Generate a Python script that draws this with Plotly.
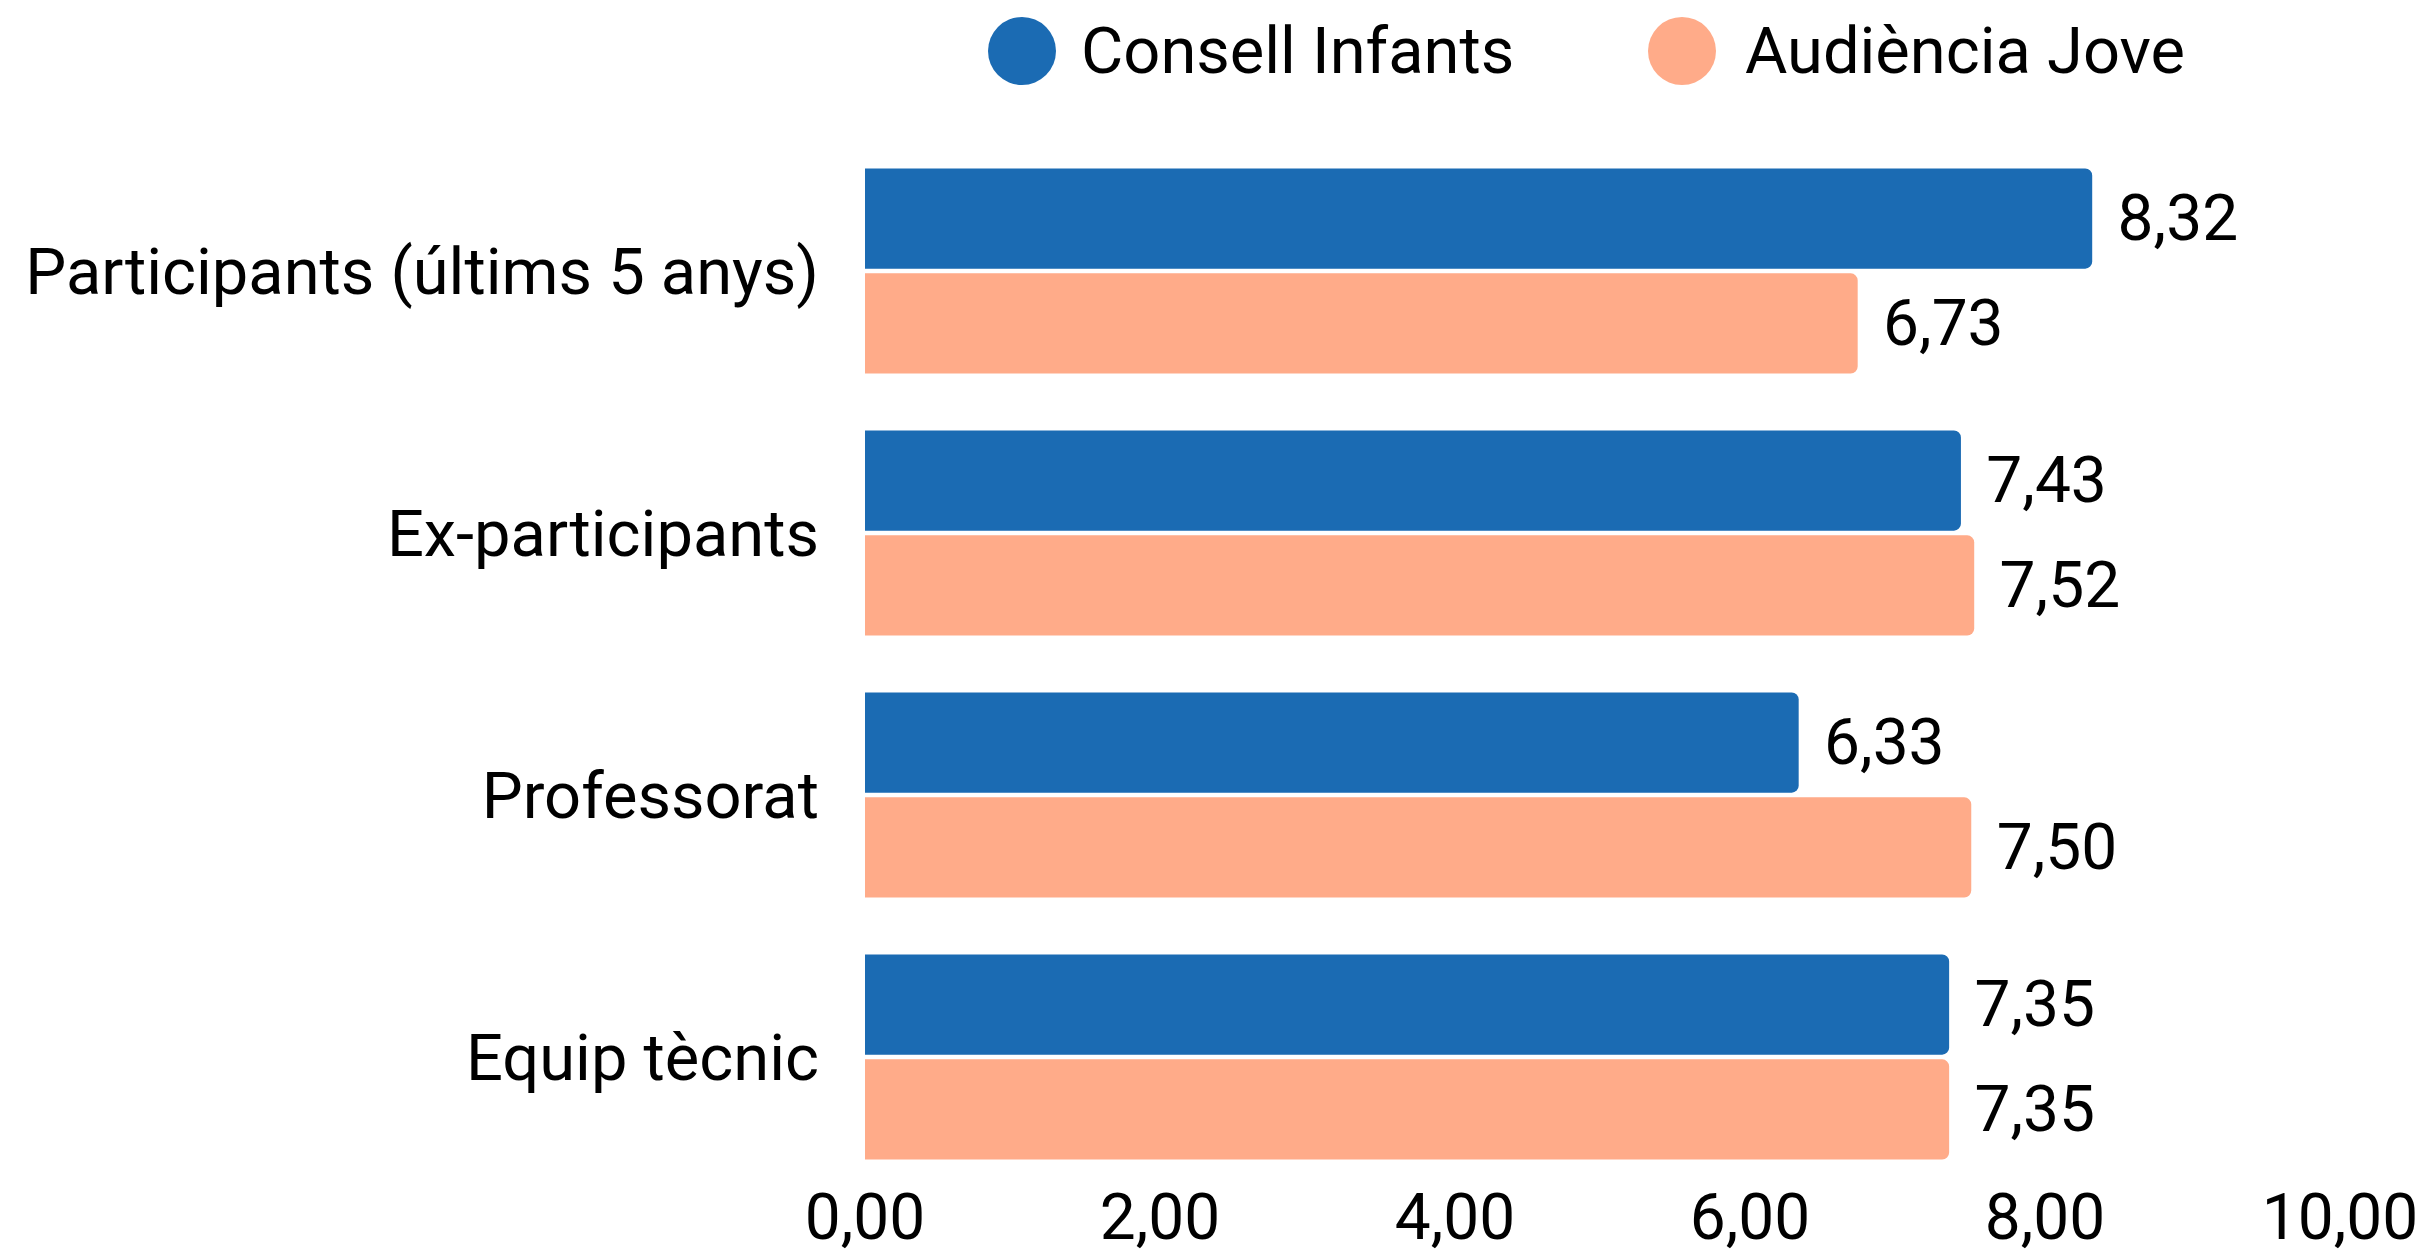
import plotly.graph_objects as go

categories = ["Participants (últims 5 anys)", "Ex-participants", "Professorat", "Equip tècnic"]
consell_infants = [8.32, 7.43, 6.33, 7.35]
audiencia_jove = [6.73, 7.52, 7.50, 7.35]
series_names = ["Consell Infants", "Audiència Jove"]
colors = ["#1b6bb3", "#ffab89"]
tick_vals = [0, 2, 4, 6, 8, 10]

# page body has an 8px default margin; size the figure to fit the window
W, H = 2420, 1248
FONT = "Roboto"
L, R, T, B = 857, 88, 132, 68
plot_w = W - L - R
plot_h = H - T - B

fig = go.Figure()
for name, vals, col in zip(series_names, [consell_infants, audiencia_jove], colors):
    fig.add_trace(go.Bar(
        y=categories, x=vals, orientation="h", name=name,
        marker=dict(color=col, line=dict(width=0)),
        texttemplate="\u00a0\u200a%{x:.2f}", textposition="outside",
        textfont=dict(family=FONT, size=64, color="#000000"),
        cliponaxis=False, showlegend=False,
    ))

# custom legend (large circles)
leg_y = 1 + (T - 43) / plot_h
legend_items = [(series_names[0], colors[0], 1014, 1071), (series_names[1], colors[1], 1674, 1735)]
for name, col, cx, tx in legend_items:
    fig.add_shape(type="circle", xref="paper", yref="paper",
                  xsizemode="pixel", ysizemode="pixel",
                  xanchor=(cx - L) / plot_w, yanchor=leg_y,
                  x0=-34, x1=34, y0=-34, y1=34,
                  fillcolor=col, line=dict(width=0))
    fig.add_annotation(text=name, xref="paper", yref="paper",
                       x=(tx - L) / plot_w, y=leg_y,
                       xanchor="left", yanchor="middle", showarrow=False,
                       font=dict(family=FONT, size=65, color="#000000"))

fig.update_layout(
    width=W, height=H,
    margin=dict(l=L, r=R, t=T, b=B, autoexpand=False),
    barmode="group", bargap=0.2, bargroupgap=0.045, barcornerradius=7,
    separators=",.",
    paper_bgcolor="white", plot_bgcolor="white",
    font=dict(family=FONT, color="#000000"),
    showlegend=False,
)
fig.update_xaxes(range=[0, 10], tickvals=tick_vals, tickformat=".2f",
                 showgrid=False, zeroline=False, showline=False, ticks="",
                 ticklabelstandoff=-14,
                 tickfont=dict(family=FONT, size=64, color="#000000"), automargin=False)
fig.update_yaxes(autorange="reversed", showgrid=False, zeroline=False, showline=False, ticks="",
                 ticklabelstandoff=45,
                 tickfont=dict(family=FONT, size=65, color="#000000"), automargin=False)

fig.write_html("out.html")
